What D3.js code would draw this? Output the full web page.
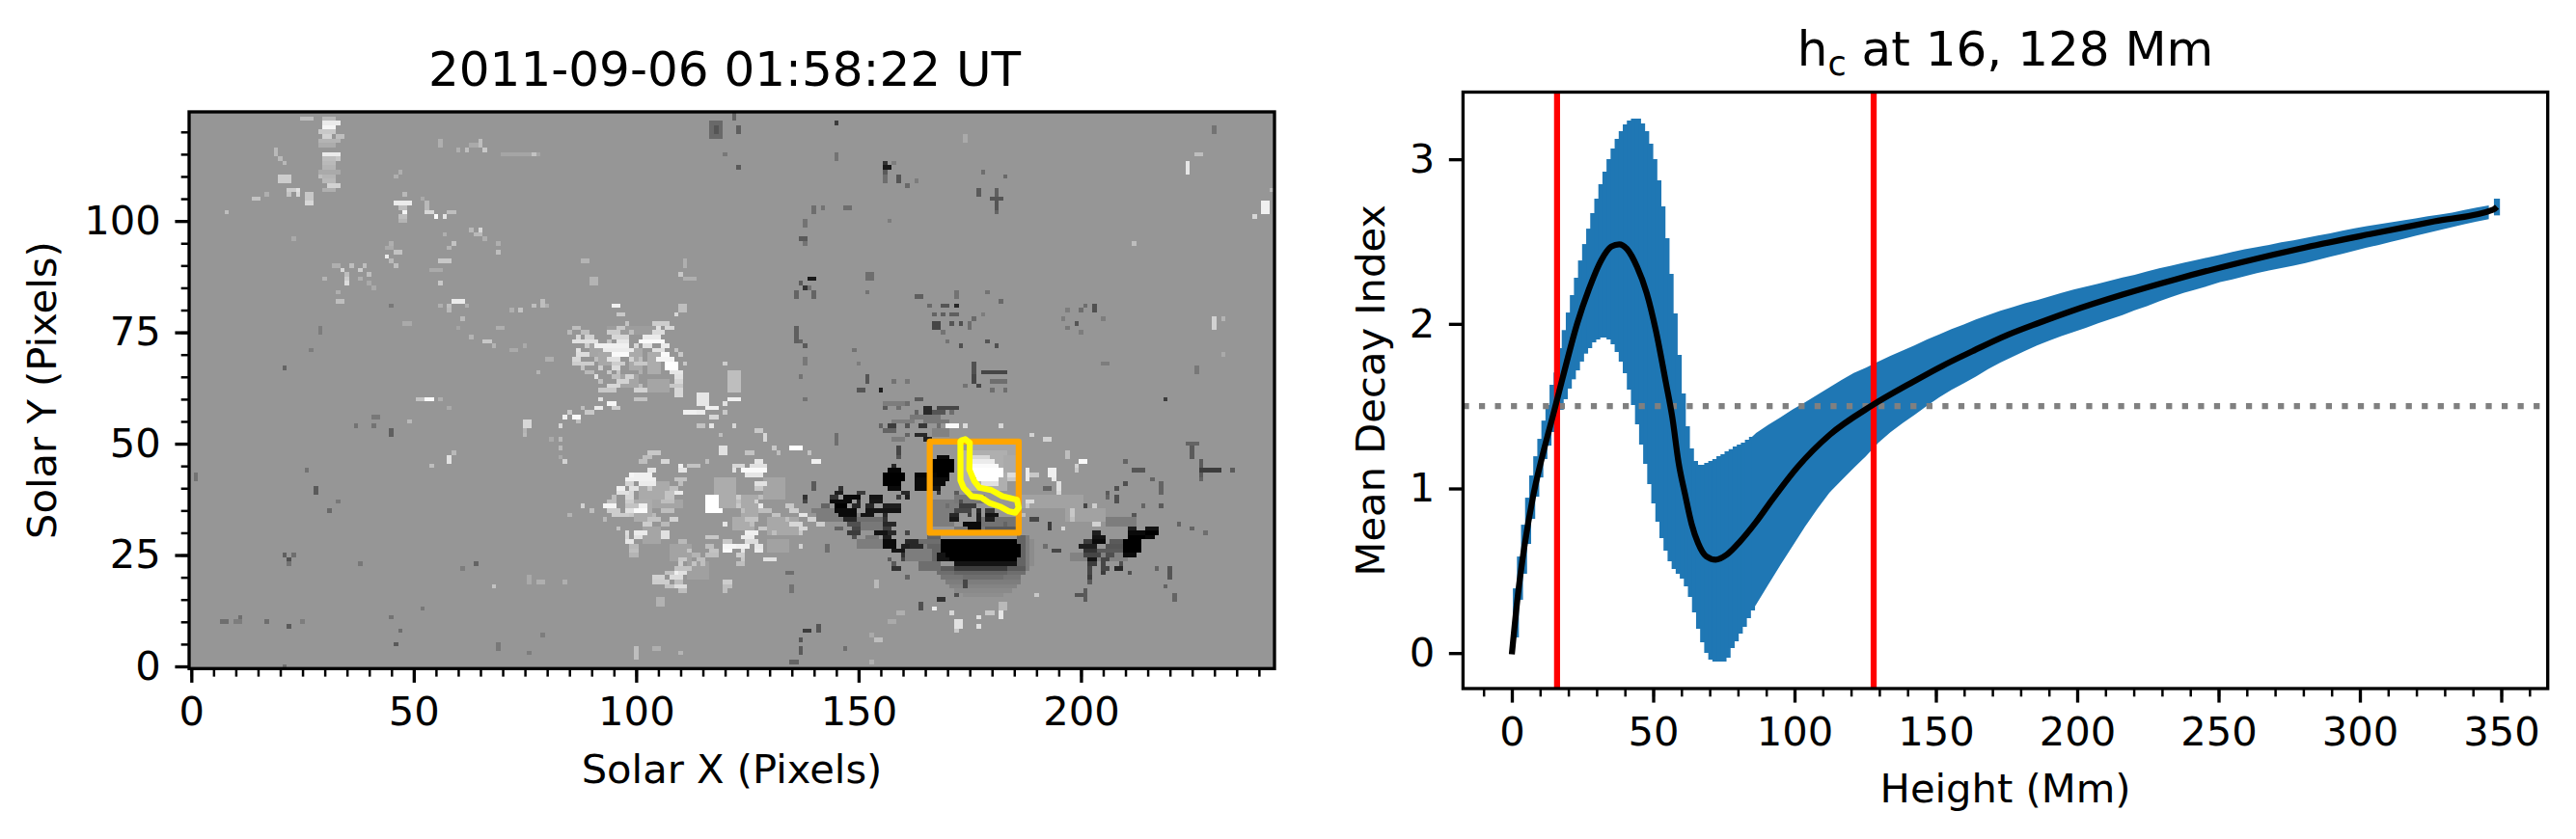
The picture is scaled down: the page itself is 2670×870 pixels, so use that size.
<!DOCTYPE html>
<html>
<head>
<meta charset="utf-8">
<script src="https://cdn.jsdelivr.net/npm/d3@7"></script>
<style>
  html, body { margin: 0; padding: 0; background: #fff; }
  text { font-family: "DejaVu Sans", sans-serif; fill: #000; }
</style>
</head>
<body>
<div id="main"></div>
<script>
// magnetogram patches: [col0, col1, row0, row1, gray]
const haloCells = [
  // penumbra fading out round the main sunspot
  [174,182,16,16,142],[172,184,17,17,138],[171,185,18,18,132],[170,186,19,19,125],[169,186,20,20,118],[168,187,21,21,110],[168,187,22,22,90],
  [186,187,23,29,100],[188,188,22,29,125],[189,189,23,28,140],[166,168,23,29,100],[165,165,23,28,125],
  // mottled field round the dark spots
  [156,160,59,59,125],[162,168,56,56,120],[158,162,55,55,125],[165,170,55,55,120],[158,160,51,51,125],[167,170,52,53,130],
  [141,150,33,34,125],[150,155,33,33,110],[151,156,31,32,120],[140,144,35,35,125],[152,154,29,29,120],[150,155,27,28,125],
  [164,168,28,28,110],[160,166,24,26,125],[164,168,22,23,110],[172,185,30,31,120],[178,185,32,33,115],[167,172,35,37,125],
  [172,178,37,38,120],[167,171,32,34,125],[206,212,32,33,125],[198,210,24,25,130],
  // light field under the plage and the bright core
  [176,185,48,50,165],[174,183,40,48,175],[183,186,44,47,170],[187,200,36,38,162],[197,205,33,35,162],
  [94,104,75,76,157],[90,92,70,72,165],[99,101,67,71,170],[103,105,66,70,172],[92,94,68,70,168],[97,100,63,65,165],[103,107,62,64,165],
  [101,107,38,41,170],[100,103,33,37,172],[104,110,36,37,165],[102,105,28,31,165],[108,112,24,27,163],[112,116,20,23,160],
  [118,122,36,42,172],[124,127,34,38,170],[129,133,38,42,165],[130,136,30,33,168],[122,126,31,33,172],[130,134,26,28,162]
];
const darkCells = [
  [117,119,119,122,105],[118,118,120,121,85],[122,122,123,124,100],[123,123,120,121,95],[145,145,122,122,60],[123,123,112,112,90],
  [120,120,115,115,120],[145,145,114,115,115],[156,157,112,112,25],[156,156,113,113,50],[156,156,111,111,90],[158,158,113,113,125],
  [156,156,109,110,110],[159,159,109,110,85],[161,161,108,108,105],[163,163,109,109,125],[178,178,111,111,110],[183,183,110,110,105],
  [177,177,106,107,90],[180,182,105,105,85],[181,181,106,107,95],[181,181,103,104,85],[181,181,102,102,100],[140,140,102,103,110],
  [142,142,103,103,115],[147,148,103,103,110],[138,138,99,100,115],[137,138,96,96,90],[138,138,95,95,115],[157,157,100,100,125],
  [139,140,87,87,25],[137,137,86,86,90],[138,138,85,85,50],[136,136,83,84,100],[140,140,83,84,100],[139,139,85,85,115],
  [152,153,87,88,110],[152,152,84,84,115],[163,164,83,83,95],[166,166,81,81,105],[169,170,81,81,85],[172,172,81,81,40],
  [172,172,83,84,115],[167,167,79,79,100],[169,169,79,79,95],[171,172,79,79,95],[176,176,78,78,105],[178,178,79,79,125],
  [167,168,76,77,70],[171,171,77,77,85],[173,173,77,77,80],[175,175,76,77,110],[169,169,75,75,115],[170,170,73,73,115],
  [173,173,72,72,80],[179,179,73,73,85],[181,181,72,72,80],[179,179,84,84,115],[182,182,82,82,105],[203,203,80,81,80],
  [201,201,81,81,110],[200,200,80,80,110],[197,197,80,80,125],[199,199,77,77,85],[196,196,78,78,125],[197,197,76,76,120],
  [205,205,78,78,125],[200,200,75,75,125],[136,136,73,76,95],[137,137,73,73,100],[138,138,72,72,90],[138,138,68,69,120],
  [149,149,71,71,115],[150,150,68,68,125],[137,137,65,65,115],[230,230,120,121,115],[226,226,66,67,120],[205,206,68,68,125],
  [152,152,64,65,85],[150,151,62,62,85],[155,155,62,62,30],[158,158,64,64,115],[161,161,64,64,120],[176,176,66,68,80],
  [176,176,64,65,70],[178,179,66,66,70],[180,183,66,66,70],[177,177,63,63,70],[174,174,63,63,115],[180,180,62,62,110],
  [183,183,62,62,110],[180,183,64,64,110],[21,21,67,67,100],[27,27,71,71,125],[29,29,75,76,125],[45,45,81,81,120],
  [37,37,54,54,115],[41,41,54,54,115],[41,42,56,56,120],[45,45,52,53,95],[1,1,42,43,115],[26,26,44,44,115],[28,28,39,40,90],
  [33,33,37,37,120],[31,31,35,35,105],[21,21,25,25,95],[22,22,24,24,80],[23,23,25,25,110],[22,22,23,23,115],[38,38,23,23,120],
  [64,64,23,23,100],[61,61,22,22,125],[7,8,10,10,110],[11,11,11,11,110],[10,11,10,10,125],[17,17,10,10,110],[22,22,9,9,90],
  [25,25,10,10,125],[45,45,11,11,115],[47,47,8,8,110],[46,46,5,5,90],[52,52,13,13,120],[69,69,4,5,120],[79,79,7,7,125],
  [76,76,3,3,125],[21,21,0,0,110],
  // north of the core
  [163,164,60,60,90],[161,161,59,59,110],[156,156,58,58,90],[159,159,58,58,110],[165,166,57,58,40],[168,172,58,58,70],
  [163,163,57,57,100],[167,169,57,57,85],[171,171,57,57,110],[157,158,54,54,60],[161,161,54,54,85],[164,165,54,54,55],
  [155,155,54,54,100],[168,168,54,54,110],[156,158,53,53,100],[163,165,52,52,40],[161,161,52,52,100],[165,166,51,51,30],
  [145,145,50,52,110],[159,159,48,49,70],[159,159,47,47,85],
  // blobs inside and left of the box
  [168,170,47,47,10],[167,171,45,46,0],[166,171,44,44,0],[163,167,43,43,5],[168,170,43,43,0],[163,166,42,42,10],[167,170,42,42,10],
  [163,165,41,41,10],[167,169,41,41,10],[163,165,40,40,10],[167,168,40,40,20],[168,168,39,39,50],
  [158,158,45,45,40],[157,159,44,44,5],[156,160,42,43,0],[156,159,41,41,0],[157,159,40,40,10],[160,161,39,39,40],[159,159,38,38,60],[161,161,38,38,30],
  [146,146,40,40,50],[145,146,39,39,30],[150,151,39,39,60],[144,145,38,38,50],[147,150,38,38,10],[153,155,38,38,20],[138,138,38,38,50],
  [144,148,37,37,10],[150,150,37,37,40],[153,155,37,37,25],[138,138,37,37,70],[142,143,36,36,100],[145,147,36,36,0],[149,150,36,36,40],
  [152,153,36,36,40],[156,159,36,36,30],[145,149,35,35,10],[152,155,35,35,20],[156,159,35,35,20],[146,149,34,34,10],[151,153,34,34,20],
  [156,156,34,34,40],[147,149,33,33,40],[156,156,33,33,50],[148,150,32,32,80],[156,158,32,32,40],[145,146,31,31,100],[149,150,31,31,70],
  [156,157,31,31,60],[154,156,30,30,20],[148,150,30,30,60],[157,158,30,30,40],[161,161,30,30,70],[149,149,29,29,80],[156,157,29,29,30],
  [156,158,27,28,10],[161,163,28,28,40],[160,161,27,27,30],[162,164,27,27,40],[158,160,26,26,20],[160,160,25,25,50],[157,157,24,24,90],
  [160,160,24,24,70],[158,158,23,23,90],[158,158,22,22,50],
  [172,172,39,39,90],[173,173,37,37,80],[170,170,36,36,110],[173,176,36,36,60],[172,175,35,35,70],[177,177,35,35,40],[179,180,35,35,60],
  [171,172,34,34,40],[175,175,34,34,60],[177,177,34,34,30],[179,181,34,34,20],[171,172,33,33,25],[177,177,33,33,30],[179,180,33,33,30],
  [174,177,32,32,10],[183,183,32,32,100],[175,177,31,31,10],[179,186,31,31,90],[175,177,30,30,15],
  // main sunspot
  [169,185,28,28,0],[169,186,26,27,0],[168,172,25,25,20],[170,186,25,25,0],[168,171,24,24,20],[171,185,24,24,0],[172,185,23,23,20],
  [172,183,22,22,60],[172,183,21,21,100],[174,182,20,20,110],
  // following spots on the right
  [211,212,31,31,30],[215,217,31,31,20],[211,214,30,30,10],[215,217,30,30,0],[211,214,29,29,0],[215,216,29,29,10],[210,213,26,28,0],[210,212,25,25,10],
  [203,204,30,30,30],[203,205,29,29,20],[201,202,28,28,60],[203,205,28,28,10],[207,209,28,28,90],[200,203,27,27,30],[206,209,27,27,85],
  [201,203,26,26,50],[204,209,26,26,90],[201,204,25,25,70],[206,207,25,25,80],[202,203,24,24,20],[205,206,24,24,70],[202,203,23,23,60],
  [205,205,23,23,70],[205,206,22,22,60],[208,209,22,22,40],[205,205,21,21,60],[202,202,21,21,80],[211,211,21,21,40],[202,202,20,20,60],[202,202,19,19,90],
  [194,195,26,26,70],[192,192,27,27,110],[201,201,36,36,70],[193,193,31,32,60],[189,190,33,33,70],[192,193,40,40,100],
  [210,210,41,41,80],[208,208,40,40,80],[206,206,39,39,90],[208,208,37,38,80],[206,206,38,38,100],[212,214,44,44,85],[216,216,42,42,100],
  [218,218,39,41,100],[210,210,46,46,100],[225,225,47,49,90],[227,227,43,46,90],[227,230,44,44,60],[231,231,44,44,60],[234,234,44,44,90],
  [219,219,60,60,60],[227,227,42,42,100],[224,226,50,50,100],[212,212,34,34,85],[214,214,36,36,100],[218,218,36,36,90],[222,222,32,32,100],
  [225,225,31,31,100],[228,228,30,30,110],[202,202,21,22,70],[205,206,22,22,70],[209,209,23,23,80],[211,211,21,21,80],[217,217,22,22,100],
  [220,220,20,22,85],[219,219,18,18,100],[221,221,15,16,100],[201,201,15,17,90],[199,200,16,16,85],
  // filaments south of the core
  [174,174,18,19,70],[172,172,16,16,80],[168,169,15,15,50],[164,164,13,14,80],[161,161,20,20,100],[158,159,22,22,50],
  [138,139,8,8,60],[141,141,8,9,85],[137,137,6,6,85],[137,137,3,4,90],[135,136,1,1,100],[147,147,4,4,110],[134,135,21,21,110],
  [135,135,17,18,115],[143,143,26,27,110],[138,138,60,60,115],[140,140,40,41,90]
];
const brightCells = [
  [25,27,123,123,190],[30,32,123,123,185],[30,33,122,122,235],[30,32,121,121,245],[29,32,120,120,200],[30,31,119,119,210],[33,34,119,119,190],
  [29,33,118,118,180],[29,32,117,117,172],[30,33,115,115,235],[30,32,114,114,190],[33,33,114,114,200],[30,32,113,113,185],[30,32,112,112,180],
  [29,33,111,111,170],[29,29,110,110,190],[30,32,110,110,180],[30,32,109,109,185],[31,33,108,108,210],[30,32,107,107,175],
  [19,19,115,116,185],[20,20,114,114,185],[21,21,113,113,185],[20,22,109,110,205],[22,23,107,107,205],[24,24,107,107,225],[22,22,106,106,195],
  [24,24,106,106,215],[26,27,105,106,200],[26,27,104,104,215],[14,15,105,105,195],[17,17,106,106,175],[8,8,102,102,190],
  [47,47,111,111,175],[46,46,110,110,175],[48,48,106,106,185],[46,49,104,104,235],[47,48,103,103,190],[48,48,102,102,245],[47,48,101,101,190],[47,48,100,100,180],
  [53,54,102,102,215],[55,55,101,101,250],[57,57,101,101,230],[58,58,102,102,190],[59,59,102,102,190],[53,53,103,104,185],[52,52,105,105,170],
  [56,56,117,118,175],[60,60,116,116,175],[62,62,116,116,190],[65,65,117,118,190],[66,66,116,116,200],[63,64,117,117,170],[70,78,115,115,165],[77,77,115,115,195],
  [65,65,98,98,215],[63,63,98,98,185],[64,65,97,97,185],[66,66,96,96,175],[57,57,97,97,175],[59,59,95,95,195],[58,58,94,94,180],[69,69,95,95,175],[69,69,93,93,190],
  [45,45,95,95,175],[46,47,93,93,195],[44,45,94,94,170],[44,44,92,92,235],[45,45,91,91,185],[46,46,90,90,190],[56,58,91,91,200],[56,56,89,89,170],[54,55,89,89,170],[56,56,86,86,200],
  [23,23,96,96,170],[32,33,90,90,175],[36,36,90,90,190],[39,39,90,90,190],[38,38,89,89,205],[34,34,89,89,215],[40,40,88,88,190],[35,35,88,88,190],[30,30,87,87,180],
  [35,35,86,86,220],[35,35,87,87,205],[38,38,87,87,175],[40,40,86,86,170],[41,41,85,85,170],[33,33,84,84,175],[33,34,82,82,190],
  [59,61,82,82,235],[58,58,81,81,190],[62,62,81,81,175],[56,56,81,81,175],[58,58,80,80,185],[61,61,78,78,185],
  [79,79,81,82,190],[77,77,81,81,190],[80,80,81,81,175],[74,74,80,80,195],[72,72,80,80,175],[48,49,77,77,170],[66,67,73,73,200],[68,68,72,72,180],[63,63,74,74,180],
  [69,70,76,76,175],[60,60,76,76,165],[72,73,71,71,170],[75,75,72,72,170],[80,81,69,69,175],[78,78,66,66,180],[88,89,91,91,180],[90,91,86,87,180],
  [111,111,90,91,175],[110,110,88,88,200],[111,113,87,87,175],[110,111,80,81,190],[109,109,79,79,215],[95,96,81,81,240],[96,97,79,79,200],
  // plage north
  [104,107,77,77,205],[98,98,77,77,195],[86,87,76,76,190],[96,97,76,76,200],[105,105,76,76,225],[107,108,76,76,215],[85,85,75,75,185],[88,89,75,75,190],[94,96,75,75,205],
  [99,99,75,75,190],[104,106,75,75,220],[87,87,74,74,215],[89,90,74,74,210],[95,98,74,74,215],[102,105,74,74,235],[86,91,73,73,225],[94,94,73,73,195],[96,98,73,73,230],
  [101,106,73,73,250],[89,89,72,72,205],[91,98,72,72,240],[100,100,72,72,215],[102,103,72,72,225],[106,107,72,72,235],[87,87,71,71,225],[93,99,71,71,235],[104,106,71,71,225],
  [109,109,71,71,195],[87,89,70,70,220],[95,98,70,70,250],[106,107,70,70,250],[110,110,70,70,200],[86,87,69,69,215],[91,91,69,69,190],[94,96,69,69,225],[99,99,69,69,210],
  [101,101,69,69,190],[105,108,69,69,245],[86,90,68,68,205],[95,97,68,68,205],[100,102,68,68,200],[107,109,68,68,255],[111,111,68,68,200],[88,88,67,67,195],[92,92,67,67,205],
  [95,96,67,67,220],[107,109,67,67,255],[89,90,66,66,185],[94,94,66,66,200],[96,96,66,66,195],[101,101,66,66,175],[108,110,66,66,230],[91,91,65,65,225],[95,96,65,65,190],
  [98,99,65,65,210],[109,110,65,65,225],[92,92,64,64,190],[96,98,64,64,210],[109,110,64,64,215],[94,96,63,63,215],[101,101,63,63,190],[108,110,63,63,200],[92,95,62,62,200],[100,102,62,62,210],
  [92,92,60,60,225],[94,95,59,59,245],[91,92,58,58,235],[95,96,58,58,205],[100,102,60,60,195],[89,90,57,57,200],[86,87,56,56,250],[84,84,56,56,240],[88,88,58,58,190],[83,83,54,54,215],
  [85,85,57,57,200],[87,87,55,55,190],[83,83,51,51,185],[81,81,51,51,170],[83,83,49,49,185],[84,84,46,46,210],[83,83,47,47,170],[75,76,54,55,215],[75,75,53,53,180],[75,75,52,52,185],
  [53,54,60,60,250],[51,52,60,60,195],[56,56,60,60,175],[58,58,58,58,170],[49,49,55,55,185],[58,58,46,47,225],[59,59,48,48,185],[54,54,45,45,190],
  // plage south
  [103,105,48,48,200],[102,103,47,47,190],[106,107,46,46,215],[101,102,46,46,190],[110,110,45,45,240],[112,114,45,45,195],[110,111,44,44,230],[116,116,46,46,190],
  [100,103,43,43,240],[99,99,43,43,245],[103,104,44,44,230],[98,104,42,42,240],[109,111,42,42,195],[98,99,41,41,210],[101,104,41,41,235],[110,110,41,41,190],
  [96,97,40,40,240],[99,100,40,40,225],[103,103,40,40,200],[108,109,40,40,190],[96,98,39,39,225],[99,99,39,39,215],[107,108,39,39,195],[109,110,39,39,235],
  [95,95,38,38,190],[98,99,38,38,215],[107,108,38,38,195],[116,118,38,38,255],[94,95,37,37,190],[98,99,37,37,205],[106,108,37,37,190],[116,118,37,37,255],
  [88,88,36,36,210],[93,95,36,36,245],[98,100,36,36,195],[101,102,36,36,240],[116,118,36,36,255],[90,90,35,35,190],[94,96,35,35,205],[98,99,35,35,225],[100,102,35,35,250],
  [106,108,35,35,190],[116,119,35,35,255],[85,85,34,34,180],[95,98,34,34,205],[99,99,34,34,200],[104,104,34,34,185],[93,93,33,33,185],[103,105,33,33,195],[108,109,33,33,210],
  [102,103,32,32,205],[106,107,32,32,185],[96,96,31,31,195],[98,98,30,30,220],[100,102,30,30,235],[106,107,30,30,225],[98,98,29,29,215],[100,101,29,29,225],[106,107,29,29,225],
  [116,118,29,29,200],[98,99,28,28,230],[110,111,28,28,185],[99,100,27,27,185],[116,117,27,27,190],[120,120,27,27,210],[99,100,26,26,190],[112,112,26,26,195],[117,118,26,26,195],
  [120,120,26,26,205],[99,100,25,25,180],[113,114,25,25,180],[116,118,25,25,190],[110,111,24,24,200],[114,115,24,24,190],[110,110,23,23,205],[113,113,23,23,195],[115,115,23,23,190],
  [109,112,22,22,195],[107,108,21,21,195],[109,109,21,21,240],[110,111,21,21,225],[104,106,20,20,210],[108,110,20,20,220],[104,107,19,19,205],[109,110,19,19,190],[107,108,18,18,195],
  [109,111,18,18,220],[110,111,17,17,190],[105,106,14,15,178],[114,116,59,61,230],[111,114,57,57,240],[116,118,58,58,240],[114,115,57,57,235],[117,118,56,56,215],[114,115,54,54,195],
  [117,117,54,54,230],[109,110,61,62,215],[119,120,48,49,225],[119,119,52,52,190],[100,100,2,4,190],[104,105,4,4,175],[110,110,3,3,180],[68,68,18,18,195],[78,79,19,19,175],[76,76,19,20,170],[84,84,19,19,175],
  // isolated on the right side
  [224,224,111,113,230],[226,227,115,115,190],[241,242,102,104,240],[239,239,101,101,215],[212,212,95,95,190],[230,230,76,78,210],[232,232,78,78,180],[232,232,70,70,170],
  [174,174,118,119,170],[243,243,107,107,185],[120,120,68,68,205],[121,123,62,66,190],
  // plage east, next to the active core
  [121,123,60,60,240],[120,120,59,59,225],[120,120,57,57,200],[122,122,54,54,215],[127,128,53,53,200],[129,129,51,52,215],[135,137,49,49,255],[131,131,49,49,200],[132,132,48,48,190],
  [139,139,48,48,195],[140,141,46,46,240],[125,126,48,48,195],[127,128,46,46,230],[122,124,45,45,215],[126,129,45,45,225],[122,122,44,44,225],[124,129,44,44,250],[125,128,43,43,230],
  [127,129,41,41,225],[127,128,40,40,200],[123,123,38,38,205],[128,128,38,38,190],[123,123,37,37,190],[127,127,37,37,210],[123,123,36,36,200],[128,128,36,36,235],[134,135,36,36,200],
  [124,124,35,35,190],[128,130,35,35,190],[135,136,35,35,205],[131,132,34,34,195],[137,138,34,34,230],[125,127,33,33,195],[134,134,33,33,190],[139,140,33,33,210],[120,120,32,32,230],
  [126,126,32,32,190],[135,137,32,32,215],[141,142,32,32,205],[128,129,31,31,200],[137,138,31,31,215],[125,127,30,30,240],[131,131,30,30,190],[137,137,30,30,200],[124,126,29,29,235],
  [120,121,28,28,200],[125,127,28,28,220],[120,122,27,27,245],[123,125,27,27,240],[127,128,27,27,230],[137,137,27,27,210],[120,121,26,26,250],[124,124,26,26,230],[127,128,26,26,235],
  [123,124,25,25,205],[129,131,24,24,225],[124,124,24,24,200],[123,124,23,23,190],[120,121,19,19,205],[120,121,18,18,190],[120,120,17,17,190],
  // core
  [170,172,54,54,250],[174,174,54,54,220],[182,182,54,54,215],[189,189,52,52,210],[192,193,51,51,210],[197,197,47,48,190],[200,201,46,46,250],[199,199,45,45,210],[199,199,44,44,200],
  [176,179,47,47,215],[175,180,46,46,235],[175,181,45,45,250],[175,182,44,44,255],[176,182,43,43,255],[184,185,43,43,220],[177,181,42,42,255],[184,185,42,42,200],[178,181,41,41,225],
  [188,188,42,44,235],[189,190,43,43,200],[193,194,43,44,240],[194,194,42,42,235],[195,195,40,41,225],[195,195,39,39,215],[188,189,37,37,220],[188,188,36,36,200],[187,187,34,34,190],
  [203,203,36,36,205],[198,198,34,35,200],[198,198,33,33,190],[196,196,31,31,215],[203,204,32,32,210],
  [167,167,13,13,235],[171,171,12,12,215],[172,173,9,10,225],[172,172,8,8,200],[177,177,11,11,225],[177,177,9,9,225],[179,180,12,12,200],[182,182,11,12,230],[182,183,13,14,185],
  [190,190,16,16,200],[154,154,18,19,185],[154,155,6,6,190],[153,153,7,7,170],[153,153,1,1,175],[159,160,12,12,175],[157,158,10,10,170]
];

// yellow contour and orange box, in image pixels
const contourX = [173.1,174,175,174.9,176,177.2,179.8,182.3,185.6,186,185.2,183.8,182,179.4,177.6,175.4,173.6,172.9,172.9];
const contourY = [50.7,51,50.2,44.2,41.6,40.1,39.6,38.2,37.4,35.6,34.5,34.8,35.8,36.7,37.9,38.2,40.1,41.8,50.5];
const boxCols = [166, 186];
const boxRows = [30, 50.5];

// first read of the y axis was a little off, this puts the band values on the real ticks
const recal = v => v * 1.00703 - 0.0076;

// decay index band: heights (Mm), lower and upper bar ends
const bandH = [0,1.44,2.88,4.32,5.76,7.2,8.64,10.08,11.52,12.96,14.4,15.84,17.28,18.72,20.16,21.6,23.04,24.48,25.92,27.36,28.8,30.24,31.68,33.12,34.56,36,37.44,38.88,40.32,41.76,43.2,44.64,46.08,47.52,48.96,50.4,51.84,53.28,54.72,56.16,57.6,59.04,60.48,61.92,63.36,64.8,66.24,67.68,69.12,70.56,72,73.44,74.88,76.32,77.76,79.2,80.64,82.08,83.52,84.96,
  86.4,90.72,95.04,99.36,103.68,108,112.32,116.64,120.96,125.28,129.6,133.92,138.24,142.56,146.88,151.2,155.52,159.84,164.16,168.48,172.8,177.12,181.44,185.76,190.08,194.4,198.72,203.04,207.36,211.68,216,220.32,224.64,228.96,233.28,237.6,241.92,246.24,250.56,254.88,259.2,263.52,267.84,272.16,276.48,280.8,285.12,289.44,293.76,298.08,302.4,306.72,311.04,315.36,319.68,324,328.32,332.64,336.96,341.28,345.6,348.48];
const bandHi = [0,.398,.59,.782,.945,1.079,1.195,1.30,1.41,1.504,1.626,1.70,1.847,1.956,2.062,2.167,2.272,2.376,2.475,2.568,2.661,2.749,2.836,2.912,2.987,3.051,3.109,3.156,3.197,3.22,3.232,3.232,3.202,3.156,3.08,2.987,2.859,2.702,2.51,2.295,2.056,1.806,1.574,1.376,1.242,1.166,1.143,1.143,1.155,1.166,1.178,1.196,1.207,1.225,1.237,1.254,1.266,1.277,1.295,1.312,
  1.335,1.385,1.43,1.477,1.52,1.565,1.61,1.655,1.697,1.73,1.765,1.80,1.832,1.865,1.90,1.93,1.962,1.99,2.02,2.047,2.072,2.095,2.117,2.137,2.158,2.18,2.2,2.218,2.236,2.255,2.273,2.29,2.31,2.328,2.345,2.362,2.378,2.394,2.41,2.427,2.443,2.457,2.47,2.485,2.498,2.512,2.526,2.54,2.555,2.57,2.583,2.595,2.607,2.618,2.63,2.642,2.653,2.665,2.68,2.695,2.708,2.749].map(recal);
const bandLo = [0,.102,.329,.486,.666,.817,.951,1.067,1.178,1.259,1.341,1.416,1.475,1.539,1.603,1.659,1.713,1.766,1.814,1.847,1.882,1.899,1.911,1.911,1.899,1.87,1.824,1.766,1.696,1.597,1.504,1.387,1.265,1.149,1.027,.91,.80,.701,.625,.561,.515,.486,.457,.41,.346,.253,.154,.073,.009,-.032,-.044,-.044,-.044,-.02,.038,.079,.125,.166,.218,.265,
  .30,.42,.54,.655,.77,.875,.975,1.05,1.125,1.195,1.275,1.34,1.395,1.445,1.50,1.55,1.595,1.635,1.675,1.72,1.76,1.795,1.83,1.863,1.892,1.92,1.945,1.97,1.997,2.022,2.046,2.075,2.10,2.13,2.155,2.18,2.20,2.222,2.245,2.262,2.28,2.30,2.315,2.33,2.345,2.361,2.38,2.398,2.416,2.435,2.453,2.47,2.488,2.506,2.525,2.543,2.56,2.577,2.595,2.61,2.625,2.648].map(recal);
const stepCount = 60;  // first 60 heights show as single bars, the rest as a filled band

// mean decay index
const meanH = [0,2.16,4.44,7.6,11.3,14.7,18,23.2,27.2,31.7,35.2,38,40.8,44.3,47.7,51,54.5,56.8,59,61.3,63.6,65.9,68.7,72.1,76.1,80.7,86.3,92,101.1,112.5,127.3,141,152.3,163.7,175.1,186.5,197.8,216,235.4,258.1,280.9,303.6,326.4,347.2,348.5];
const meanV = [0,.36,.65,.96,1.23,1.45,1.67,2.0,2.2,2.38,2.46,2.474,2.444,2.337,2.18,1.95,1.639,1.426,1.155,.963,.786,.67,.592,.571,.602,.68,.796,.93,1.13,1.325,1.5,1.635,1.74,1.835,1.925,2.0,2.07,2.17,2.265,2.365,2.455,2.535,2.612,2.683,2.70].map(recal);

const critH = [16, 128];
const critLevel = 1.5;

const leftMajorX = [0, 50, 100, 150, 200];
const leftMajorY = [0, 25, 50, 75, 100];
const rightMajorX = [0, 50, 100, 150, 200, 250, 300, 350];
const rightMajorY = [0, 1, 2, 3];

const PT = 300 / 72;  // figure was saved at 300 dpi

const svg = d3.select('#main').append('svg')
    .attr('width', 2670)
    .attr('height', 870)
    .style('display', 'block');

// ticks the way matplotlib draws them
function drawAxis(g, axisFn, scale, major, minor) {
    g.append('g').call(axisFn(scale).tickValues(minor).tickSize(2 * PT).tickFormat(''))
        .call(a => a.select('.domain').remove())
        .selectAll('line').attr('stroke', '#000').attr('stroke-width', 0.6 * PT);
    g.append('g').call(axisFn(scale).tickValues(major).tickSize(3.5 * PT).tickPadding(3.5 * PT).tickFormat(d3.format('d')))
        .call(a => a.select('.domain').remove())
        .call(a => a.selectAll('line').attr('stroke', '#000').attr('stroke-width', 0.8 * PT))
        .selectAll('text').attr('font-size', 10 * PT).attr('font-family', '"DejaVu Sans"');
}

function frame(box) {
    svg.append('rect')
        .attr('x', box.l).attr('y', box.t)
        .attr('width', box.r - box.l).attr('height', box.b - box.t)
        .attr('fill', 'none').attr('stroke', '#000').attr('stroke-width', 0.8 * PT);
}

// ---- left panel: magnetogram ----
const L = { l: 196, r: 1321, t: 116, b: 693.3 };
const xImg = d3.scaleLinear().domain([-0.5, 243.5]).range([L.l, L.r]);
const yImg = d3.scaleLinear().domain([-0.5, 124.5]).range([L.b, L.t]);

svg.append('rect').attr('x', L.l).attr('y', L.t)
    .attr('width', L.r - L.l).attr('height', L.b - L.t).attr('fill', '#969696');

svg.append('g').attr('shape-rendering', 'crispEdges')
    .selectAll('rect')
    .data(haloCells.concat(darkCells, brightCells))
    .join('rect')
    .attr('x', d => xImg(d[0] - 0.5))
    .attr('width', d => xImg(d[1] + 0.5) - xImg(d[0] - 0.5))
    .attr('y', d => yImg(d[3] + 0.5))
    .attr('height', d => yImg(d[2] - 0.5) - yImg(d[3] + 0.5))
    .attr('fill', d => d3.rgb(d[4], d[4], d[4]));

svg.append('rect')
    .attr('x', xImg(boxCols[0])).attr('y', yImg(boxRows[1]))
    .attr('width', xImg(boxCols[1]) - xImg(boxCols[0]))
    .attr('height', yImg(boxRows[0]) - yImg(boxRows[1]))
    .attr('fill', 'none').attr('stroke', 'orange').attr('stroke-width', 1.5 * PT).attr('stroke-linejoin', 'round');

svg.append('path')
    .datum(d3.range(contourX.length))
    .attr('d', d3.line().x(i => xImg(contourX[i])).y(i => yImg(contourY[i])).curve(d3.curveLinearClosed))
    .attr('fill', 'none').attr('stroke', '#ffff00').attr('stroke-width', 1.5 * PT).attr('stroke-linejoin', 'round');

frame(L);
drawAxis(svg.append('g').attr('transform', `translate(0,${L.b})`), d3.axisBottom, xImg, leftMajorX, d3.range(0, 244, 5));
drawAxis(svg.append('g').attr('transform', `translate(${L.l},0)`), d3.axisLeft, yImg, leftMajorY, d3.range(0, 125, 5));

svg.append('text').attr('x', 751).attr('y', 89).attr('text-anchor', 'middle')
    .attr('font-size', 12 * PT).text('2011-09-06 01:58:22 UT');
svg.append('text').attr('x', (L.l + L.r) / 2).attr('y', 812).attr('text-anchor', 'middle')
    .attr('font-size', 10 * PT).text('Solar X (Pixels)');
svg.append('text').attr('transform', `translate(58,${(L.t + L.b) / 2}) rotate(-90)`).attr('text-anchor', 'middle')
    .attr('font-size', 10 * PT).text('Solar Y (Pixels)');

// ---- right panel: decay index ----
const R = { l: 1516.4, r: 2640.7, t: 95.5, b: 714 };
const xH = d3.scaleLinear().domain([-17.27, 366.45]).range([R.l, R.r]);
const yV = d3.scaleLinear().domain([-0.2156, 3.408]).range([R.b, R.t]);

const lastBand = bandH.length - 1;
svg.append('g')
    .selectAll('line')
    .data(d3.range(stepCount).concat([lastBand]))
    .join('line')
    .attr('x1', i => xH(bandH[i])).attr('x2', i => xH(bandH[i]))
    .attr('y1', i => yV(bandLo[i]))
    .attr('y2', i => yV(bandHi[i]))
    .attr('stroke', '#1f77b4')
    .attr('stroke-width', 1.5 * PT);

svg.append('path')
    .datum(d3.range(stepCount - 1, lastBand))
    .attr('d', d3.area().x(i => xH(bandH[i])).y0(i => yV(bandLo[i])).y1(i => yV(bandHi[i])))
    .attr('fill', '#1f77b4');

svg.append('line')
    .attr('x1', R.l).attr('x2', R.r).attr('y1', yV(critLevel)).attr('y2', yV(critLevel))
    .attr('stroke', 'gray').attr('stroke-width', 1.5 * PT).attr('stroke-dasharray', `${1.5 * PT} ${2.475 * PT}`);

svg.append('g')
    .selectAll('line')
    .data(critH)
    .join('line')
    .attr('x1', d => xH(d)).attr('x2', d => xH(d))
    .attr('y1', R.t).attr('y2', R.b)
    .attr('stroke', 'red').attr('stroke-width', 1.5 * PT);

svg.append('path')
    .datum(d3.range(meanH.length))
    .attr('d', d3.line().x(i => xH(meanH[i])).y(i => yV(meanV[i])).curve(d3.curveMonotoneX))
    .attr('fill', 'none').attr('stroke', '#000').attr('stroke-width', 1.5 * PT);

frame(R);
drawAxis(svg.append('g').attr('transform', `translate(0,${R.b})`), d3.axisBottom, xH, rightMajorX, d3.range(-10, 361, 10));
drawAxis(svg.append('g').attr('transform', `translate(${R.l},0)`), d3.axisLeft, yV, rightMajorY, []);

const rt = svg.append('text').attr('x', (R.l + R.r) / 2).attr('y', 68).attr('text-anchor', 'middle').attr('font-size', 12 * PT);
rt.append('tspan').text('h');
rt.append('tspan').attr('font-size', 8.4 * PT).attr('dy', 10).text('c');
rt.append('tspan').attr('dy', -10).text(' at 16, 128 Mm');
svg.append('text').attr('x', (R.l + R.r) / 2).attr('y', 832).attr('text-anchor', 'middle')
    .attr('font-size', 10 * PT).text('Height (Mm)');
svg.append('text').attr('transform', `translate(1435,${(R.t + R.b) / 2}) rotate(-90)`).attr('text-anchor', 'middle')
    .attr('font-size', 10 * PT).text('Mean Decay Index');
</script>
</body>
</html>
